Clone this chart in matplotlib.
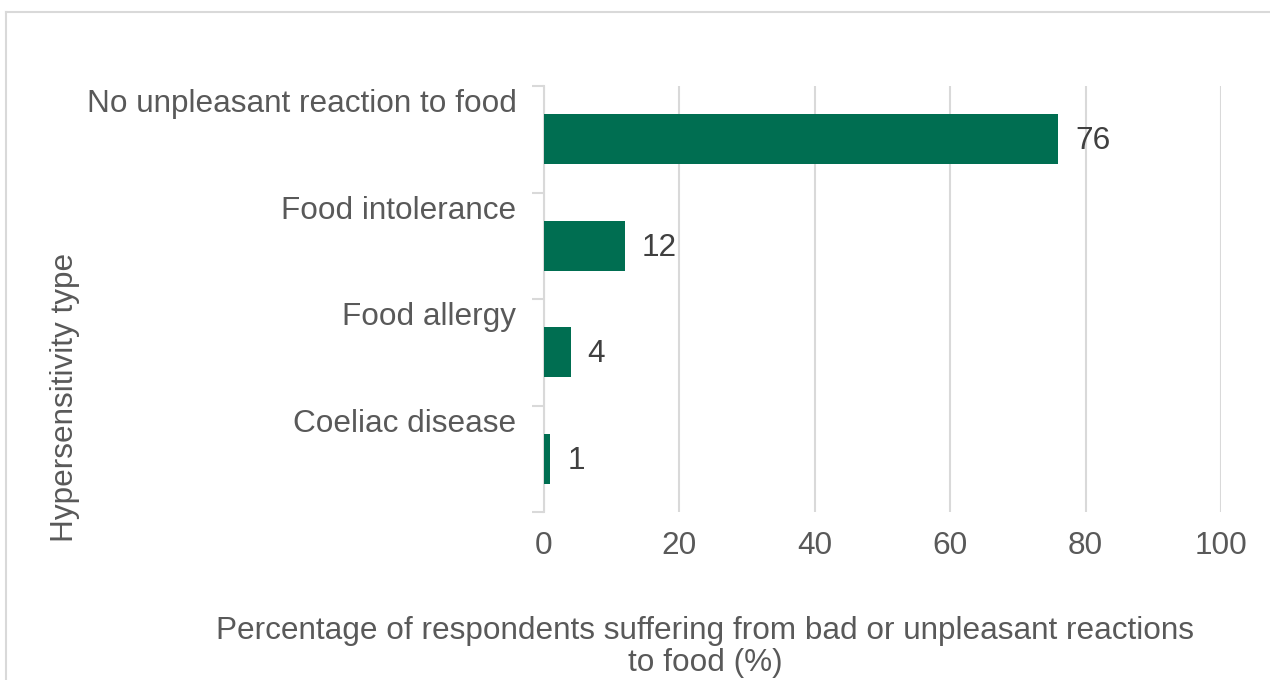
import matplotlib
matplotlib.use("Agg")
import matplotlib.pyplot as plt
from matplotlib.lines import Line2D
import matplotlib.transforms as mtransforms
import numpy as np

categories = ["No unpleasant reaction to food", "Food intolerance", "Food allergy", "Coeliac disease"]
values = [76, 12, 4, 1]
x_ticks = [0, 20, 40, 60, 80, 100]

bar_color = "#006E51"
text_color = "#595959"
grid_color = "#D9D9D9"
fs = 22.7

plt.rcParams['font.family'] = ['Liberation Sans', 'DejaVu Sans']

fig = plt.figure(figsize=(12.7, 6.8), dpi=100)
ax = fig.add_axes([543.5 / 1270, 1 - 512 / 680, (1221 - 543.5) / 1270, (512 - 86) / 680])

n = len(categories)
pos = np.arange(n)
ax.barh(pos, values, height=0.47, color=bar_color, zorder=3)

for p, v in zip(pos, values):
    ax.text(v + 2.5, p + 0.02, str(v), fontsize=fs, color="#404040", va='center', ha='left')

ax.set_xlim(0, 100)
ax.set_ylim(n - 0.5, -0.5)
ax.set_xticks(x_ticks)
ax.set_xticklabels([str(t) for t in x_ticks], fontsize=fs, color=text_color)
ax.tick_params(axis='x', length=0, pad=14)
ax.xaxis.grid(True, color=grid_color, linewidth=1.5, zorder=0)

# category boundaries as ticks, labels sit near the top of each band
ax.set_yticks(np.arange(n + 1) - 0.5)
ax.set_yticklabels([])
ax.tick_params(axis='y', length=9, width=1.5, color=grid_color, direction='out')

trans = mtransforms.blended_transform_factory(ax.transAxes, ax.transData)
for p, c in zip(pos, categories):
    ax.text(-0.04, p - 0.33, c, transform=trans, fontsize=fs, color=text_color,
            ha='right', va='center')

for s in ['top', 'right', 'bottom']:
    ax.spines[s].set_visible(False)
ax.spines['left'].set_color(grid_color)
ax.spines['left'].set_linewidth(1.5)

fig.text(65 / 1270, 1 - 397 / 680, "Hypersensitivity type", rotation=90, fontsize=fs,
         color=text_color, ha='center', va='center')
fig.text(705 / 1270, 1 - 647 / 680,
         "Percentage of respondents suffering from bad or unpleasant reactions\nto food (%)",
         fontsize=fs, color=text_color, ha='center', va='center', linespacing=1.1)

# chart area border (top and left visible)
fig.add_artist(Line2D([6 / 1270, 6 / 1270], [0, 1 - 12 / 680], transform=fig.transFigure,
                      color=grid_color, linewidth=1.5))
fig.add_artist(Line2D([6 / 1270, 1], [1 - 12 / 680, 1 - 12 / 680], transform=fig.transFigure,
                      color=grid_color, linewidth=1.5))

fig.savefig("out.png", dpi=100)
plt.close(fig)
